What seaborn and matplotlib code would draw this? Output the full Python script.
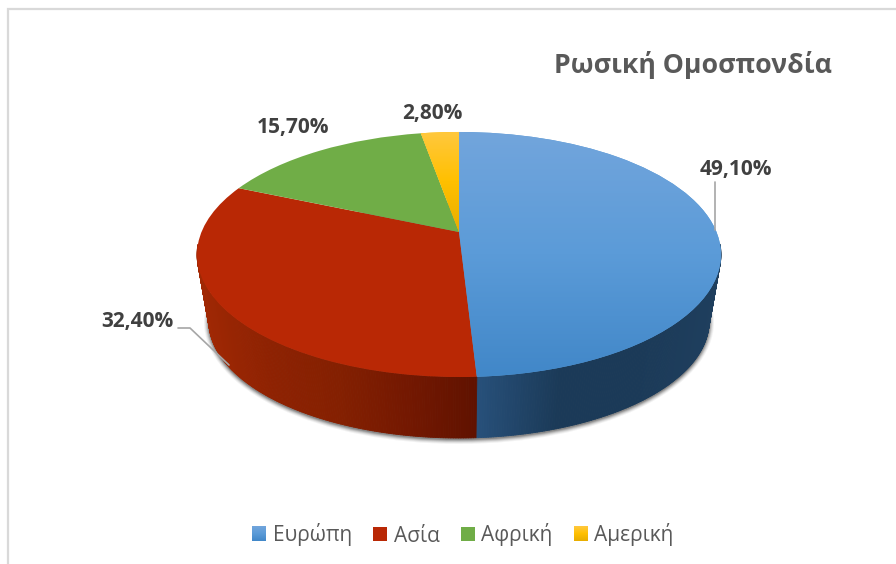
import matplotlib

matplotlib.use("Agg")

import matplotlib.pyplot as plt
import numpy as np
import seaborn as sns
from matplotlib.collections import PolyCollection
from matplotlib.colors import LinearSegmentedColormap, to_rgb
from matplotlib.patches import Ellipse, Patch
from matplotlib.transforms import Transform

TITLE = "Ρωσική Ομοσπονδία"
REGIONS = ["Ευρώπη", "Ασία", "Αφρική", "Αμερική"]
SHARES = [49.10, 32.40, 15.70, 2.80]

TOP_COLORS = ["#5b9bd5", "#b92805", "#70ad47", "#ffc000"]
# side wall colours from left to right of the wall
SIDE_COLORS = [
    ["#27507a", "#1b3a58", "#1b3a58", "#1f3f5e"],
    ["#a02804", "#8f2202", "#842001", "#741801", "#601200"],
    ["#4a7a2e", "#3d6626"],
    ["#a87f00", "#8a6800"],
]
LABEL_POS = [(736, 170), (137, 322), (293, 127), (432, 113)]

# pixel geometry of the tilted disc
CX, APEX_Y = 459.0, 232.0
RX, RY, TILT = 257.5, 118.4, 0.1837
DEPTH_SHIFT, DEPTH_SCALE = 67.5, 0.955


def project(u, v, scale=1.0, shift=0.0):
    w = 1 + TILT * v
    return CX + scale * RX * u / w, APEX_Y + shift - scale * RY * v / w


class DiscTransform(Transform):
    input_dims = 2
    output_dims = 2

    def transform_non_affine(self, values):
        values = np.asarray(values)
        x, y = project(values[:, 0], values[:, 1])
        return np.column_stack([x, y])


sns.set_theme(style="white")
plt.rcParams["font.family"] = ["Open Sans", "DejaVu Sans"]

fig = plt.figure(figsize=(8.96, 5.64), dpi=100)
ax = fig.add_axes([0, 0, 1, 1])

palette = sns.color_palette(TOP_COLORS)
wedges, _ = ax.pie(
    SHARES,
    colors=palette,
    startangle=90,
    counterclock=False,
    wedgeprops={"linewidth": 0, "edgecolor": "none"},
)
disc = DiscTransform() + ax.transData
for wedge in wedges:
    wedge.set_transform(disc)
    wedge.set_clip_on(False)
    wedge.set_zorder(5)

ax.set_aspect("auto")
ax.set_xlim(0, 896)
ax.set_ylim(564, 0)
ax.axis("off")

# soft shadow under the wall
for grow, alpha in [(5, 0.06), (4, 0.09), (3, 0.14), (2, 0.2), (1, 0.26)]:
    ax.add_patch(
        Ellipse(
            (459, 322),
            2 * (250 + grow),
            2 * (117 + grow),
            facecolor="#303030",
            edgecolor="none",
            alpha=alpha,
            zorder=1,
        )
    )

# side wall, one strip per small step of each share
edges = np.cumsum([0] + SHARES) / sum(SHARES) * 2 * np.pi
for start, stop, stops in zip(edges[:-1], edges[1:], SIDE_COLORS):
    theta = np.linspace(start, stop, max(int((stop - start) * 120), 3))
    u, v = np.sin(theta), np.cos(theta)
    tx, ty = project(u, v)
    bx, by = project(u, v, DEPTH_SCALE, DEPTH_SHIFT)
    # only the front of the rim shows, the back would bleed round the top face
    polys = [
        [(tx[i], ty[i]), (tx[i + 1], ty[i + 1]), (bx[i + 1], by[i + 1]), (bx[i], by[i])]
        for i in range(len(theta) - 1)
        if v[i] < -0.1 and v[i + 1] < -0.1
    ]
    if not polys:
        continue
    front = (v[:-1] < -0.1) & (v[1:] < -0.1)
    mid = ((tx[:-1] + tx[1:]) / 2)[front]
    pos = (mid - mid.min()) / max(mid.max() - mid.min(), 1)
    rgb = np.array([to_rgb(c) for c in stops])
    grid = np.linspace(0, 1, len(stops))
    cols = np.column_stack([np.interp(pos, grid, rgb[:, k]) for k in range(3)])
    ax.add_collection(PolyCollection(polys, facecolors=cols, edgecolors=cols, linewidths=0.6, zorder=2))

# gradient faces on the two shaded wedges
fade = np.linspace(0, 1, 256).reshape(-1, 1)
blue = LinearSegmentedColormap.from_list("blue", ["#72a5dc", "#5b9bd8", "#4187c8"])
amber = LinearSegmentedColormap.from_list("amber", ["#ffc840", "#ffc000", "#e8ad00"])
for wedge, cmap, top, bottom in [(wedges[0], blue, 132, 377), (wedges[3], amber, 130, 233)]:
    im = ax.imshow(fade, cmap=cmap, extent=(190, 730, bottom, top), aspect="auto", zorder=6)
    im.set_clip_path(wedge)

# leader lines
ax.plot([715, 715], [182, 230], color="#a6a6a6", lw=1.2, zorder=7)
ax.plot([178, 190, 229], [328, 328, 365], color="#a6a6a6", lw=1.2, zorder=7)

for share, (x, y) in zip(SHARES, LABEL_POS):
    ax.text(
        x, y, f"{share:.2f}%".replace(".", ","),
        ha="center", va="center", fontsize=15, fontweight="bold", color="#404040", zorder=8,
    )

ax.text(693, 65, TITLE, ha="center", va="center", fontsize=19.2, fontweight="bold", color="#595959")

# chart frame, cut off on the right and at the bottom
ax.plot([8, 8, 896], [564, 9, 9], color="#d9d9d9", lw=1.6, solid_joinstyle="miter", zorder=1)

handles = [Patch(facecolor=c, edgecolor="none") for c in TOP_COLORS]
legend = ax.legend(
    handles,
    REGIONS,
    loc="center",
    bbox_to_anchor=(463 / 896, 1 - 535 / 564),
    ncol=4,
    frameon=False,
    fontsize=15,
    labelcolor="#595959",
    handlelength=0.67,
    handleheight=0.67,
    handletextpad=0.33,
    columnspacing=1.0,
)

# same gradients on the matching legend swatches
fig.canvas.draw()
swatches = legend.get_patches()
for patch, cmap in [(swatches[0], blue), (swatches[3], amber)]:
    box = patch.get_window_extent()
    ax.imshow(fade, cmap=cmap, extent=(box.x0, box.x1, 564 - box.y0, 564 - box.y1), aspect="auto", zorder=10)

ax.set_xlim(0, 896)
ax.set_ylim(564, 0)

fig.savefig("out.png", dpi=100)
plt.close(fig)
